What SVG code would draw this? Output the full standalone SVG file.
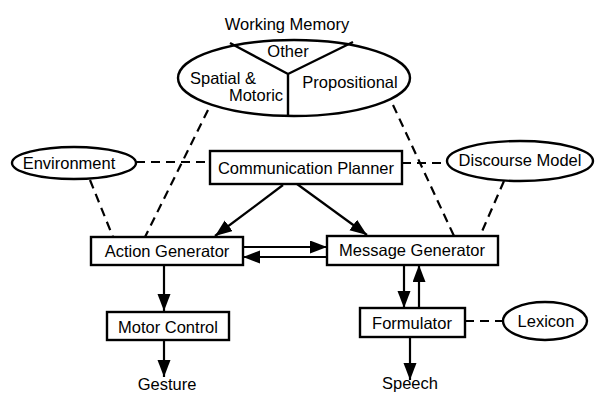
<svg xmlns="http://www.w3.org/2000/svg" width="595" height="393" viewBox="0 0 595 393">
<defs>
<marker id="ah" markerUnits="userSpaceOnUse" markerWidth="20" markerHeight="14" refX="17" refY="6.5" orient="auto">
<path d="M0,0 L17,6.5 L0,13 Z" fill="#000"/>
</marker>
<style>
text{font-family:"Liberation Sans",Arial,sans-serif;font-size:16.5px;fill:#000;text-anchor:middle}
.box{fill:#fff;stroke:#000;stroke-width:2.4}
.ell{fill:#fff;stroke:#000;stroke-width:2.4}
.solid{stroke:#000;stroke-width:2.4;fill:none}
.arr{stroke:#000;stroke-width:2.2;fill:none;marker-end:url(#ah)}
.dash{stroke:#000;stroke-width:2.2;fill:none;stroke-dasharray:9 6}
</style>
</defs>
<rect width="595" height="393" fill="#fff"/>
<g id="connectors">
<line class="dash" x1="136" y1="162" x2="210" y2="162"/>
<line class="dash" x1="402" y1="163" x2="447" y2="163"/>
<line class="dash" x1="90" y1="180" x2="113" y2="237"/>
<line class="dash" x1="208" y1="110" x2="145" y2="237"/>
<line class="dash" x1="393" y1="105" x2="454" y2="236"/>
<line class="dash" x1="504" y1="181" x2="480" y2="236"/>
<line class="dash" x1="465" y1="321" x2="503" y2="321"/>
<line class="arr" x1="283" y1="185" x2="215" y2="236"/>
<line class="arr" x1="297" y1="184" x2="367" y2="235"/>
<line class="arr" x1="243" y1="247" x2="327" y2="247"/>
<line class="arr" x1="327" y1="257" x2="243" y2="257"/>
<line class="arr" x1="164" y1="265" x2="164" y2="311"/>
<line class="arr" x1="164" y1="340" x2="164" y2="377"/>
<line class="arr" x1="404" y1="265" x2="404" y2="308"/>
<line class="arr" x1="419" y1="308" x2="419" y2="265"/>
<line class="arr" x1="410" y1="337" x2="410" y2="380"/>
</g>
<g id="working-memory">
<text x="287" y="30">Working Memory</text>
<ellipse class="ell" cx="294" cy="78" rx="116" ry="38"/>
<path class="solid" d="M230,43 L288,74 L353,42 M288,74 L288,116"/>
<text x="288" y="57">Other</text>
<text x="223" y="84">Spatial &amp;</text>
<text x="256" y="101">Motoric</text>
<text x="350" y="88">Propositional</text>
</g>
<g id="environment">
<ellipse class="ell" cx="74" cy="163" rx="62" ry="16"/>
<text x="69" y="169">Environment</text>
</g>
<g id="communication-planner">
<rect class="box" x="210" y="151" width="192" height="33"/>
<text x="306" y="174">Communication Planner</text>
</g>
<g id="discourse-model">
<ellipse class="ell" cx="520" cy="161" rx="73" ry="20"/>
<text x="520" y="166">Discourse Model</text>
</g>
<g id="action-generator">
<rect class="box" x="91" y="237" width="152" height="28"/>
<text x="167" y="257">Action Generator</text>
</g>
<g id="message-generator">
<rect class="box" x="327" y="236" width="171" height="29"/>
<text x="412" y="256">Message Generator</text>
</g>
<g id="motor-control">
<rect class="box" x="107" y="312" width="122" height="28"/>
<text x="168" y="333">Motor Control</text>
</g>
<g id="gesture">
<text x="167" y="390">Gesture</text>
</g>
<g id="formulator">
<rect class="box" x="360" y="308" width="105" height="29"/>
<text x="412" y="329">Formulator</text>
</g>
<g id="lexicon">
<ellipse class="ell" cx="545" cy="321" rx="42" ry="19"/>
<text x="546" y="327">Lexicon</text>
</g>
<g id="speech">
<text x="410" y="389">Speech</text>
</g>
</svg>
